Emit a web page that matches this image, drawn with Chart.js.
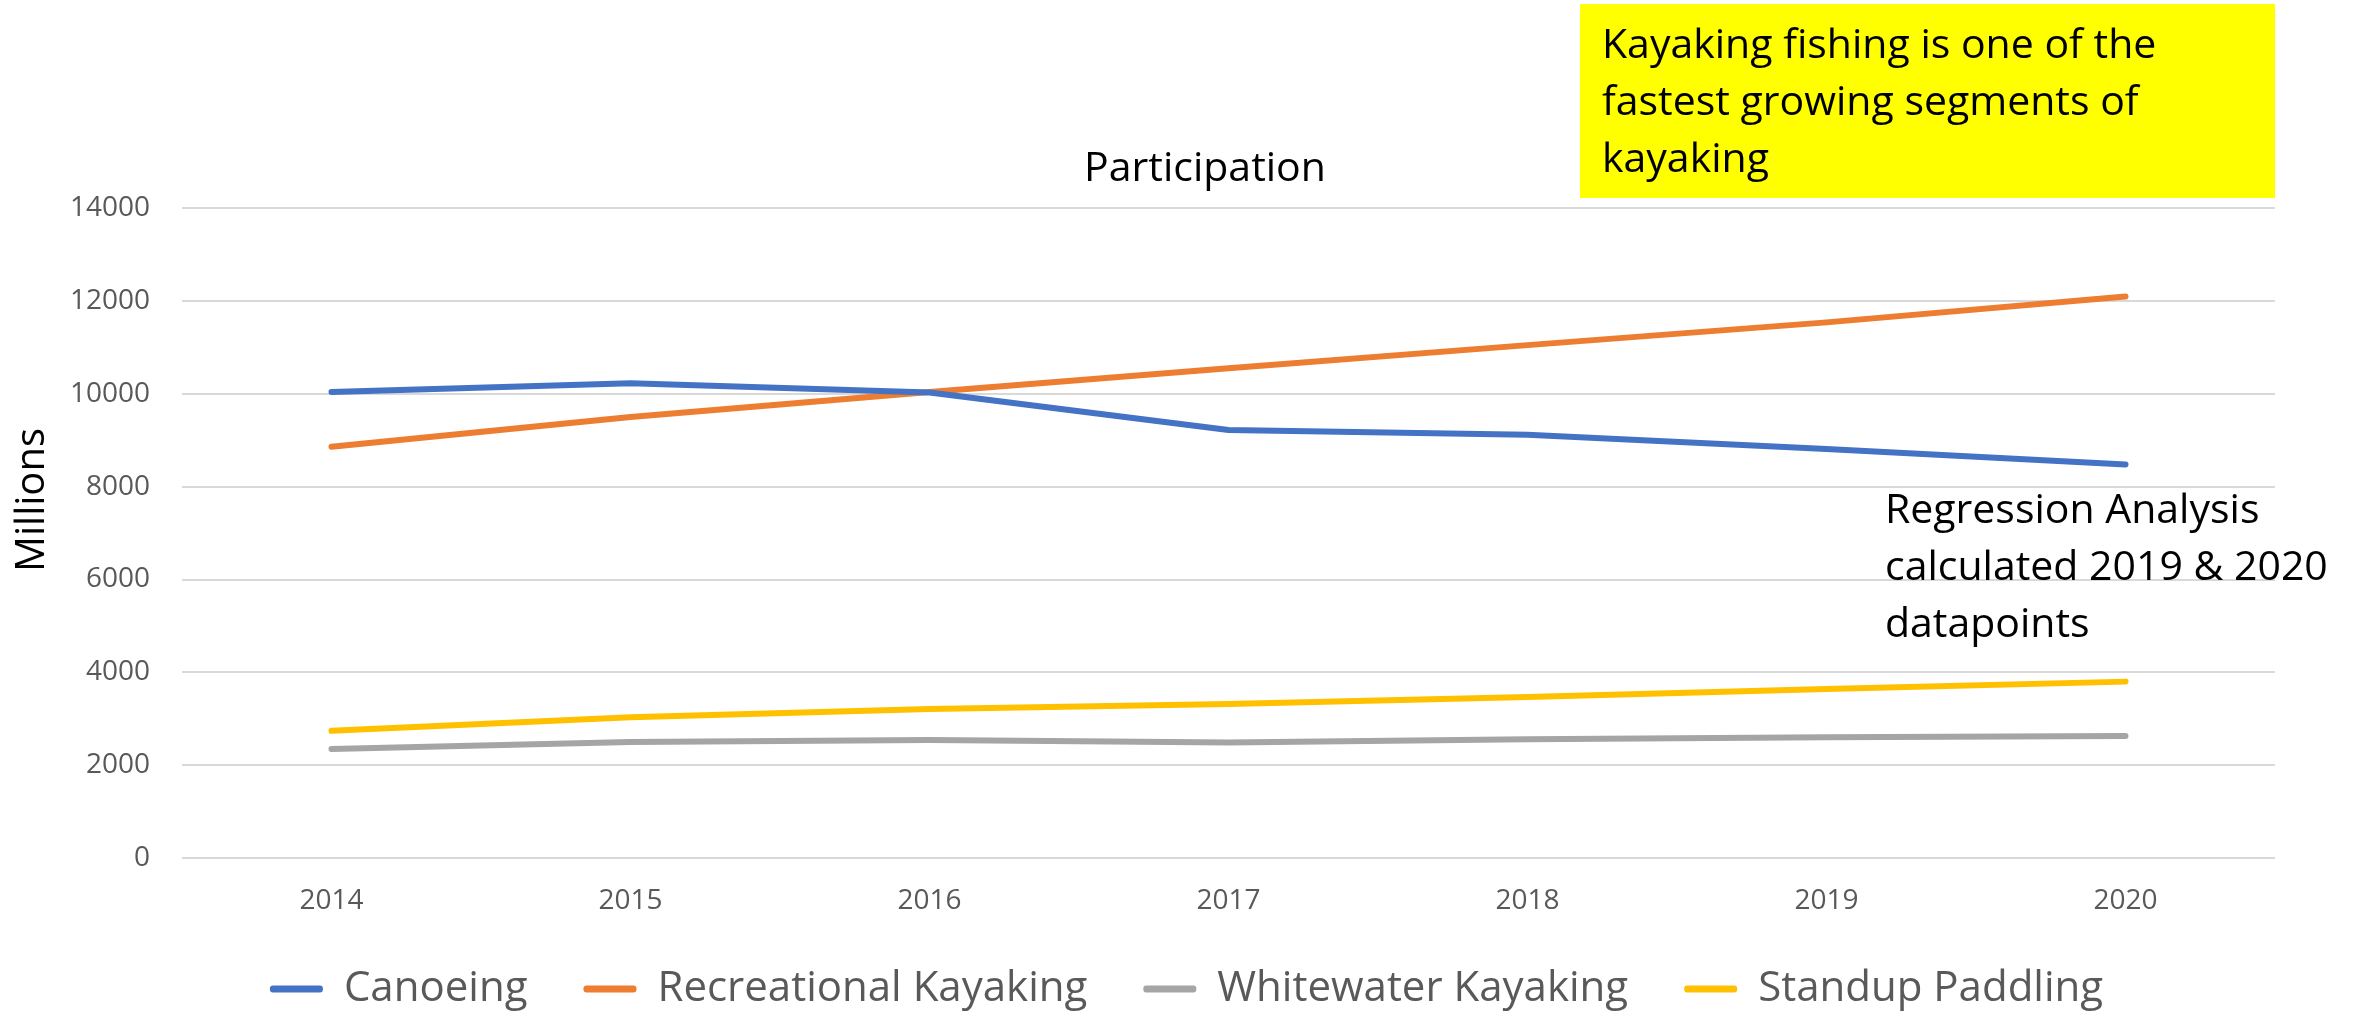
<!DOCTYPE html>
<html>
<head>
<meta charset="utf-8">
<title>Participation</title>
<script src="https://cdn.jsdelivr.net/npm/chart.js@4.4.1/dist/chart.umd.min.js"></script>
<style>
  html, body { margin: 0; padding: 0; background: #fff; }
  canvas { display: block; }
</style>
</head>
<body>
<canvas id="chart" width="2374" height="1013"></canvas>
<script>
// Data
const years = ["2014", "2015", "2016", "2017", "2018", "2019", "2020"];
const canoeing = [10040, 10230, 10030, 9220, 9120, 8810, 8480];
const recreationalKayaking = [8860, 9500, 10040, 10550, 11050, 11540, 12100];
const whitewaterKayaking = [2350, 2500, 2540, 2490, 2560, 2600, 2630];
const standupPaddling = [2740, 3030, 3210, 3320, 3470, 3640, 3800];

const seriesNames = ["Canoeing", "Recreational Kayaking", "Whitewater Kayaking", "Standup Paddling"];
const seriesColors = ["#4472c4", "#ed7d31", "#a5a5a5", "#ffc000"];

const Y_MIN = 0;
const Y_MAX = 14000;
const Y_STEP = 2000;

const titleText = "Participation";
const yTitle = "Millions";
const calloutLines = ["Kayaking fishing is one of the", "fastest growing segments of", "kayaking"];
const regressionLines = ["Regression Analysis", "calculated 2019 & 2020", "datapoints"];

// Style
const FONT = "'Open Sans', sans-serif";
const GRAY_TEXT = "#595959";

Chart.defaults.font.family = FONT;

const makeLine = (label, data, color) => ({
  label,
  data,
  borderColor: color,
  backgroundColor: color,
  borderWidth: 6,
  borderCapStyle: "round",
  borderJoinStyle: "round",
  pointRadius: 0,
  tension: 0,
  fill: false
});

// Text that sits on top of the chart: callout, regression note, y title
const notesPlugin = {
  id: "notes",
  afterLayout(chart) {
    // nudge title and legend so they centre where the original does
    chart.titleBlock.left = 135;
    chart.legend.left = 98;
  },
  afterDraw(chart) {
    const { ctx, chartArea } = chart;
    ctx.save();

    ctx.fillStyle = "#ffff00";
    ctx.fillRect(chartArea.right - 695, 4, 695, 194);

    ctx.fillStyle = "#000";
    ctx.font = `41px ${FONT}`;
    ctx.textAlign = "left";
    ctx.textBaseline = "alphabetic";
    calloutLines.forEach((t, i) => ctx.fillText(t, chartArea.right - 673, 58 + i * 57));
    regressionLines.forEach((t, i) => ctx.fillText(t, chartArea.right - 390, 523 + i * 57));

    ctx.translate(33, 500);
    ctx.rotate(-Math.PI / 2);
    ctx.textAlign = "center";
    ctx.textBaseline = "middle";
    ctx.font = `40px ${FONT}`;
    ctx.fillText(yTitle, 0, 0);
    ctx.restore();
  }
};

const datasets = [canoeing, recreationalKayaking, whitewaterKayaking, standupPaddling]
  .map((d, i) => makeLine(seriesNames[i], d, seriesColors[i]));

new Chart(document.getElementById("chart"), {
  type: "line",
  data: { labels: years, datasets },
  options: {
    responsive: false,
    animation: false,
    layout: { padding: { left: 0, right: 99, top: 0, bottom: -7 } },
    scales: {
      x: {
        offset: true,
        grid: { display: false, drawTicks: false },
        border: { display: false },
        ticks: { color: GRAY_TEXT, font: { size: 28 }, padding: 26, maxRotation: 0 },
        afterFit: (s) => { s.height = 54; }
      },
      y: {
        min: Y_MIN,
        max: Y_MAX,
        ticks: { stepSize: Y_STEP, color: GRAY_TEXT, font: { size: 28 }, padding: 32, callback: (v) => String(v) },
        grid: { color: "#d9d9d9", lineWidth: 2, drawTicks: false },
        border: { display: false },
        afterFit: (s) => { s.width = 182; }
      }
    },
    plugins: {
      title: {
        display: true,
        text: titleText,
        color: "#000",
        font: { size: 41, weight: "normal" },
        padding: { top: 145, bottom: 14 }
      },
      legend: {
        position: "bottom",
        labels: {
          color: GRAY_TEXT,
          font: { size: 42 },
          boxWidth: 53,
          boxHeight: 7,
          padding: 56,
          useBorderRadius: true,
          borderRadius: 3,
          generateLabels: (chart) =>
            Chart.defaults.plugins.legend.labels.generateLabels(chart).map((l) => ({ ...l, lineWidth: 0 }))
        }
      },
      tooltip: { enabled: false }
    }
  },
  plugins: [notesPlugin]
});
</script>
</body>
</html>
